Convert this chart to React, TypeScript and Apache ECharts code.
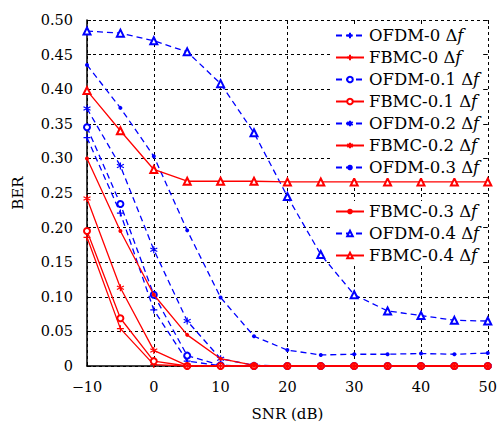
import React, { useEffect, useRef } from "react";
import * as echarts from "echarts";

const snr = [-10, -5, 0, 5, 10, 15, 20, 25, 30, 35, 40, 45, 50];
const ofdm0 = [0.33, 0.221, 0.081, 0.007, 0.0005, 0, 0, 0, 0, 0, 0, 0, 0];
const fbmc0 = [0.186, 0.054, 0.002, 0, 0, 0, 0, 0, 0, 0, 0, 0, 0];
const ofdm01 = [0.345, 0.234, 0.103, 0.015, 0.001, 0, 0, 0, 0, 0, 0, 0, 0];
const fbmc01 = [0.195, 0.069, 0.007, 0, 0, 0, 0, 0, 0, 0, 0, 0, 0];
const ofdm02 = [0.372, 0.289, 0.168, 0.065, 0.0105, 0.001, 0, 0, 0, 0, 0, 0, 0];
const fbmc02 = [0.242, 0.113, 0.0225, 0.0005, 0, 0, 0, 0, 0, 0, 0, 0, 0];
const ofdm03 = [0.435, 0.373, 0.303, 0.196, 0.099, 0.043, 0.023, 0.016, 0.017, 0.017, 0.018, 0.017, 0.0187];
const fbmc03 = [0.3, 0.195, 0.103, 0.045, 0.0105, 0.001, 0, 0, 0, 0, 0, 0, 0];
const ofdm04 = [0.484, 0.481, 0.47, 0.454, 0.408, 0.337, 0.245, 0.161, 0.103, 0.0795, 0.073, 0.066, 0.065];
const fbmc04 = [0.398, 0.34, 0.284, 0.267, 0.267, 0.267, 0.266, 0.266, 0.266, 0.266, 0.266, 0.266, 0.266];

const seriesNames = [
  "OFDM-0 Δf", "FBMC-0 Δf", "OFDM-0.1 Δf", "FBMC-0.1 Δf", "OFDM-0.2 Δf",
  "FBMC-0.2 Δf", "OFDM-0.3 Δf", "FBMC-0.3 Δf", "OFDM-0.4 Δf", "FBMC-0.4 Δf",
];
const seriesValues = [ofdm0, fbmc0, ofdm01, fbmc01, ofdm02, fbmc02, ofdm03, fbmc03, ofdm04, fbmc04];

const PLUS = "path://M0,-1L0,1M-1,0L1,0";
const STAR = "path://M0,-1L0,1M-0.866,-0.5L0.866,0.5M-0.866,0.5L0.866,-0.5";
const markers = [
  { symbol: PLUS, size: 7 },
  { symbol: "emptyCircle", size: 6 },
  { symbol: STAR, size: 7 },
  { symbol: "circle", size: 4 },
  { symbol: "emptyTriangle", size: 7 },
];

const FONT = "DejaVu Serif";

export default function App() {
  const ref = useRef<HTMLDivElement>(null);
  useEffect(() => {
    if (!ref.current) return;
    const chart = echarts.init(ref.current, null, { renderer: "svg" });
    const series = seriesNames.map((name, i) => {
      const isOfdm = i % 2 === 0;
      const color = isOfdm ? "#0000ff" : "#ff0000";
      const m = markers[Math.floor(i / 2)];
      const isPath = m.symbol.startsWith("path://");
      return {
        name,
        type: "line",
        data: snr.map((x, k) => [x, seriesValues[i][k]]),
        symbol: m.symbol,
        symbolSize: m.size,
        showAllSymbol: true,
        z: isOfdm ? 2 : 3,
        lineStyle: { color, width: 1.3, type: isOfdm ? [6, 4] : "solid" },
        itemStyle: isPath
          ? { color, borderColor: color, borderWidth: 1.2 }
          : m.symbol === "circle"
          ? { color }
          : { color, borderColor: color, borderWidth: 1.3 },
      };
    });
    const legendCommon = {
      orient: "vertical",
      left: 333,
      itemWidth: 28,
      itemHeight: 7,
      itemGap: 5,
      backgroundColor: "#ffffff",
      padding: [2, 4, 2, 2],
      textStyle: {
        fontFamily: FONT,
        fontSize: 16.5,
        color: "#000",
        rich: { i: { fontFamily: FONT, fontSize: 16.5, fontStyle: "italic", color: "#000" } },
      },
      formatter: (n: string) => n.slice(0, -1) + "{i|f}",
    };
    chart.setOption({
      animation: false,
      backgroundColor: "#ffffff",
      textStyle: { fontFamily: FONT },
      grid: { left: 87, right: 10, top: 20, bottom: 58 },
      legend: [
        { ...legendCommon, top: 25, data: seriesNames.slice(0, 7) },
        { ...legendCommon, top: 201, data: seriesNames.slice(7) },
      ],
      xAxis: [
        {
          type: "value",
          min: -10,
          max: 50,
          interval: 10,
          name: "SNR (dB)",
          nameLocation: "middle",
          nameGap: 40,
          nameTextStyle: { fontFamily: FONT, fontSize: 15, color: "#000" },
          axisLine: { show: true, onZero: false, lineStyle: { color: "#000", width: 1.5 } },
          axisTick: { show: true, inside: true, length: 4, lineStyle: { color: "#000" } },
          axisLabel: {
            fontFamily: FONT,
            fontSize: 14.5,
            color: "#000",
            margin: 13,
            formatter: (v: number) => (v < 0 ? "\u2212" + Math.abs(v) : String(v)),
          },
          splitLine: { show: true, lineStyle: { color: "#000", type: [3, 3], width: 1 } },
        },
        {
          type: "value",
          position: "top",
          min: -10,
          max: 50,
          interval: 10,
          axisLine: { show: false, onZero: false },
          axisTick: { show: true, inside: true, length: 4, lineStyle: { color: "#000" } },
          axisLabel: { show: false },
          splitLine: { show: false },
        },
      ],
      yAxis: [
        {
          type: "value",
          min: 0,
          max: 0.5,
          interval: 0.05,
          name: "BER",
          nameLocation: "middle",
          nameGap: 62,
          nameTextStyle: { fontFamily: FONT, fontSize: 15, color: "#000" },
          axisLine: { show: true, onZero: false, lineStyle: { color: "#000", width: 1.5 } },
          axisTick: { show: true, inside: true, length: 4, lineStyle: { color: "#000" } },
          axisLabel: {
            fontFamily: FONT,
            fontSize: 14.5,
            color: "#000",
            margin: 14,
            formatter: (v: number) => (v === 0 ? "0" : v.toFixed(2)),
          },
          splitLine: { show: true, lineStyle: { color: "#000", type: [3, 3], width: 1 } },
        },
        {
          type: "value",
          position: "right",
          min: 0,
          max: 0.5,
          interval: 0.05,
          axisLine: { show: false, onZero: false },
          axisTick: { show: true, inside: true, length: 4, lineStyle: { color: "#000" } },
          axisLabel: { show: false },
          splitLine: { show: false },
        },
      ],
      series,
    });
    return () => chart.dispose();
  }, []);
  return (
    <div
      ref={ref}
      style={{ position: "fixed", left: 0, top: 0, width: 500, height: 426 }}
    />
  );
}
